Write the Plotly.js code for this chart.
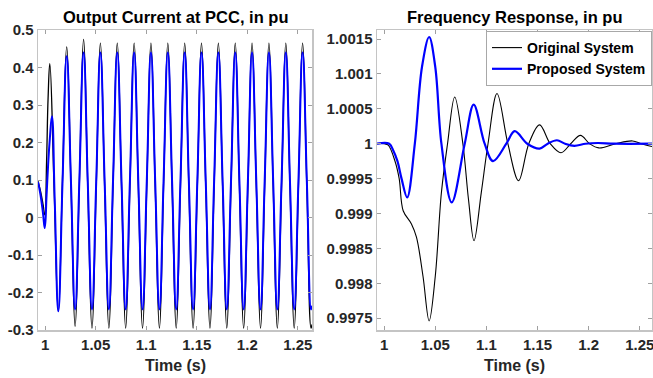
<!DOCTYPE html>
<html>
<head>
<meta charset="utf-8">
<script src="https://cdn.plot.ly/plotly-3.0.1.min.js"></script>
<style>html,body{margin:0;padding:0;background:#fff;}#chart{width:653px;height:378px;}</style>
</head>
<body>
<div id="chart"></div>
<script>
// ---------- Left panel: Output Current at PCC (pu) ----------
// Periodic part: peaks, mean-crossings and troughs (s)
const tCycle = [1.0047, 1.0089, 1.0131, 1.0172, 1.0214, 1.0256, 1.0297, 1.0339, 1.0381, 1.0422,
  1.0464, 1.0506, 1.0547, 1.0589, 1.0631, 1.0672, 1.0714, 1.0756, 1.0797, 1.0839,
  1.0881, 1.0922, 1.0964, 1.1006, 1.1047, 1.1089, 1.1131, 1.1172, 1.1214, 1.1256,
  1.1297, 1.1339, 1.1381, 1.1422, 1.1464, 1.1506, 1.1547, 1.1589, 1.1631, 1.1672,
  1.1714, 1.1756, 1.1797, 1.1839, 1.1881, 1.1922, 1.1964, 1.2006, 1.2047, 1.2089,
  1.2131, 1.2172, 1.2214, 1.2256, 1.2297, 1.2339, 1.2381, 1.2422, 1.2464, 1.2506,
  1.2547, 1.2589, 1.2631, 1.2640];

const tEarlyOrigI = [0.9930, 0.9955, 0.9980, 0.9997, 1.0015, 1.0030];
const iEarlyOrig  = [0.097, 0.070, 0.035, 0.007, 0.150, 0.320];
const iCycleOrig  = [0.410, 0.080, -0.250, 0.100, 0.455, 0.090, -0.290, 0.090, 0.475, 0.085,
  -0.295, 0.085, 0.465, 0.085, -0.295, 0.085, 0.465, 0.085, -0.295, 0.085,
  0.465, 0.085, -0.295, 0.085, 0.465, 0.085, -0.295, 0.085, 0.465, 0.085,
  -0.295, 0.085, 0.465, 0.085, -0.295, 0.085, 0.465, 0.085, -0.295, 0.085,
  0.465, 0.085, -0.295, 0.085, 0.465, 0.085, -0.295, 0.085, 0.465, 0.085,
  -0.295, 0.085, 0.465, 0.085, -0.295, 0.085, 0.465, 0.085, -0.295, 0.085,
  0.465, 0.085, -0.295, -0.285];

const tEarlyPropI = [0.9930, 0.9955, 0.9980, 0.9997, 1.0015, 1.0030, 1.0047, 1.0068, 1.0095];
const iEarlyProp  = [0.095, 0.060, 0.010, -0.028, 0.060, 0.140, 0.210, 0.270, 0.050];
// proposed system follows tCycle from 1.0131 on
const iCycleProp  = [-0.250, 0.090, 0.430, 0.095, -0.245, 0.097, 0.440, 0.097,
  -0.245, 0.097, 0.440, 0.097, -0.245, 0.097, 0.440, 0.097, -0.245, 0.097,
  0.440, 0.097, -0.245, 0.097, 0.440, 0.097, -0.245, 0.097, 0.440, 0.097,
  -0.245, 0.097, 0.440, 0.097, -0.245, 0.097, 0.440, 0.097, -0.245, 0.097,
  0.440, 0.097, -0.245, 0.097, 0.440, 0.097, -0.245, 0.097, 0.440, 0.097,
  -0.245, 0.097, 0.440, 0.097, -0.245, 0.097, 0.440, 0.097, -0.245, 0.097,
  0.440, 0.097, -0.245, -0.235];

// ---------- Right panel: Frequency Response (pu) ----------
const tFreqOrig = [0.993, 1.000, 1.004, 1.0104, 1.0147, 1.0186, 1.0267, 1.0316, 1.038, 1.044,
  1.050, 1.056, 1.062, 1.069, 1.077, 1.0825, 1.0879, 1.095, 1.1016, 1.1104,
  1.121, 1.1315, 1.1415, 1.152, 1.1625, 1.173, 1.1825, 1.192, 1.201, 1.210,
  1.2265, 1.243, 1.2515, 1.262];
const fOrig = [1.0, 1.0, 0.99998, 0.99976, 0.9995, 0.99904, 0.99885, 0.99866, 0.9981, 0.99746,
  0.9981, 0.9993, 1.0, 1.00067, 1.0, 0.9992, 0.99861, 0.9993, 1.0, 1.00072,
  1.0, 0.99947, 1.0, 1.00027, 1.0, 0.99987, 1.0, 1.00012, 1.0, 0.99994,
  1.0, 1.00004, 1.0, 0.99996];

const tFreqProp = [0.993, 1.005, 1.009, 1.013, 1.017, 1.0225, 1.030, 1.037, 1.044, 1.050,
  1.056, 1.0661, 1.0788, 1.0876, 1.0983, 1.1065, 1.1195, 1.1277, 1.140, 1.152,
  1.160, 1.169, 1.177, 1.186, 1.197, 1.209, 1.225, 1.262];
const fProp = [1.0, 1.0, 0.9999, 0.99975, 0.9995, 0.99923, 1.0, 1.0011, 1.00153, 1.0011,
  1.0, 0.99916, 1.0, 1.00056, 1.0, 0.99975, 1.0, 1.00018, 1.0, 0.99993,
  1.0, 1.00005, 1.0, 0.99997, 1.0, 1.00001, 1.0, 1.0];

const xTicks = [1, 1.05, 1.1, 1.15, 1.2, 1.25];
const xTickText = ['1', '1.05', '1.1', '1.15', '1.2', '1.25'];
const iTicks = [-0.3, -0.2, -0.1, 0, 0.1, 0.2, 0.3, 0.4, 0.5];
const iTickText = ['-0.3', '-0.2', '-0.1', '0', '0.1', '0.2', '0.3', '0.4', '0.5'];
const fTicks = [0.9975, 0.998, 0.9985, 0.999, 0.9995, 1, 1.0005, 1.001, 1.0015];
const fTickText = ['0.9975', '0.998', '0.9985', '0.999', '0.9995', '1', '1.0005', '1.001', '1.0015'];

const seriesNames = ['Original System', 'Proposed System'];
const titles = ['Output Current at PCC, in pu', 'Frequency Response, in pu'];
const xLabel = 'Time (s)';

// ---------- build ----------
const FONT = 'Liberation Sans, Arial, sans-serif';
const W = 653, H = 378;
const yTop = 30, yBot = 330;
const L1 = 38, R1 = 312, L2 = 377, R2 = 652;
const px = v => v / W, py = v => 1 - v / H;

const traces = [
  {x: tEarlyOrigI.concat(tCycle), y: iEarlyOrig.concat(iCycleOrig), xaxis: 'x', yaxis: 'y',
   mode: 'lines', line: {color: '#000000', width: 1.3, shape: 'spline', smoothing: 1.3}, showlegend: false, name: seriesNames[0]},
  {x: tEarlyPropI.concat(tCycle.slice(2)), y: iEarlyProp.concat(iCycleProp), xaxis: 'x', yaxis: 'y',
   mode: 'lines', line: {color: '#0000ff', width: 2, shape: 'spline', smoothing: 1.3}, showlegend: false, name: seriesNames[1]},
  {x: tFreqOrig, y: fOrig, xaxis: 'x2', yaxis: 'y2', mode: 'lines',
   line: {color: '#000000', width: 1.1, shape: 'spline', smoothing: 1}, name: seriesNames[0]},
  {x: tFreqProp, y: fProp, xaxis: 'x2', yaxis: 'y2', mode: 'lines',
   line: {color: '#0000ff', width: 2.2, shape: 'spline', smoothing: 1}, name: seriesNames[1]}
];

const axBase = {
  showgrid: false, zeroline: false, showline: true, linecolor: '#c4c4c4', linewidth: 1.5,
  mirror: 'ticks', ticks: 'inside', ticklen: 4, tickwidth: 1, tickcolor: '#a0a0a0',
  ticklabeloverflow: 'allow',
  tickfont: {family: FONT, size: 15, color: '#262626', weight: 'bold'}, fixedrange: true
};

const layout = {
  width: W, height: H, margin: {l: 0, r: 0, t: 0, b: 0},
  paper_bgcolor: '#ffffff', plot_bgcolor: '#ffffff',
  font: {family: FONT, color: '#262626'},
  xaxis: Object.assign({}, axBase, {domain: [px(L1), px(R1)], range: [0.993, 1.264], anchor: 'y',
    tickmode: 'array', tickvals: xTicks, ticktext: xTickText}),
  yaxis: Object.assign({}, axBase, {domain: [py(yBot), py(yTop)], range: [-0.3, 0.5], anchor: 'x',
    tickmode: 'array', tickvals: iTicks, ticktext: iTickText}),
  xaxis2: Object.assign({}, axBase, {domain: [px(L2), px(R2)], range: [0.993, 1.262], anchor: 'y2',
    tickmode: 'array', tickvals: xTicks, ticktext: xTickText}),
  yaxis2: Object.assign({}, axBase, {domain: [py(yBot), py(yTop)], range: [0.99733, 1.00163], anchor: 'x2',
    tickmode: 'array', tickvals: fTicks, ticktext: fTickText}),
  showlegend: true,
  legend: {x: px(652), xanchor: 'right', y: py(31), yanchor: 'top', xref: 'paper', yref: 'paper',
    bgcolor: '#ffffff', bordercolor: '#a8a8a8', borderwidth: 1, itemwidth: 30,
    font: {family: FONT, size: 14, color: '#000000', weight: 'bold'}, tracegroupgap: 0},
  annotations: [
    {text: titles[0], x: px((L1 + R1) / 2), y: py(17), xref: 'paper', yref: 'paper', showarrow: false,
     xanchor: 'center', yanchor: 'middle', font: {family: FONT, size: 16.5, color: '#000000', weight: 'bold'}},
    {text: titles[1], x: px((L2 + R2) / 2), y: py(17), xref: 'paper', yref: 'paper', showarrow: false,
     xanchor: 'center', yanchor: 'middle', font: {family: FONT, size: 16.5, color: '#000000', weight: 'bold'}},
    {text: xLabel, x: px((L1 + R1) / 2), y: py(365), xref: 'paper', yref: 'paper', showarrow: false,
     xanchor: 'center', yanchor: 'middle', font: {family: FONT, size: 16, color: '#262626', weight: 'bold'}},
    {text: xLabel, x: px((L2 + R2) / 2), y: py(365), xref: 'paper', yref: 'paper', showarrow: false,
     xanchor: 'center', yanchor: 'middle', font: {family: FONT, size: 16, color: '#262626', weight: 'bold'}}
  ]
};

Plotly.newPlot('chart', traces, layout, {staticPlot: true, displayModeBar: false});
</script>
</body>
</html>
